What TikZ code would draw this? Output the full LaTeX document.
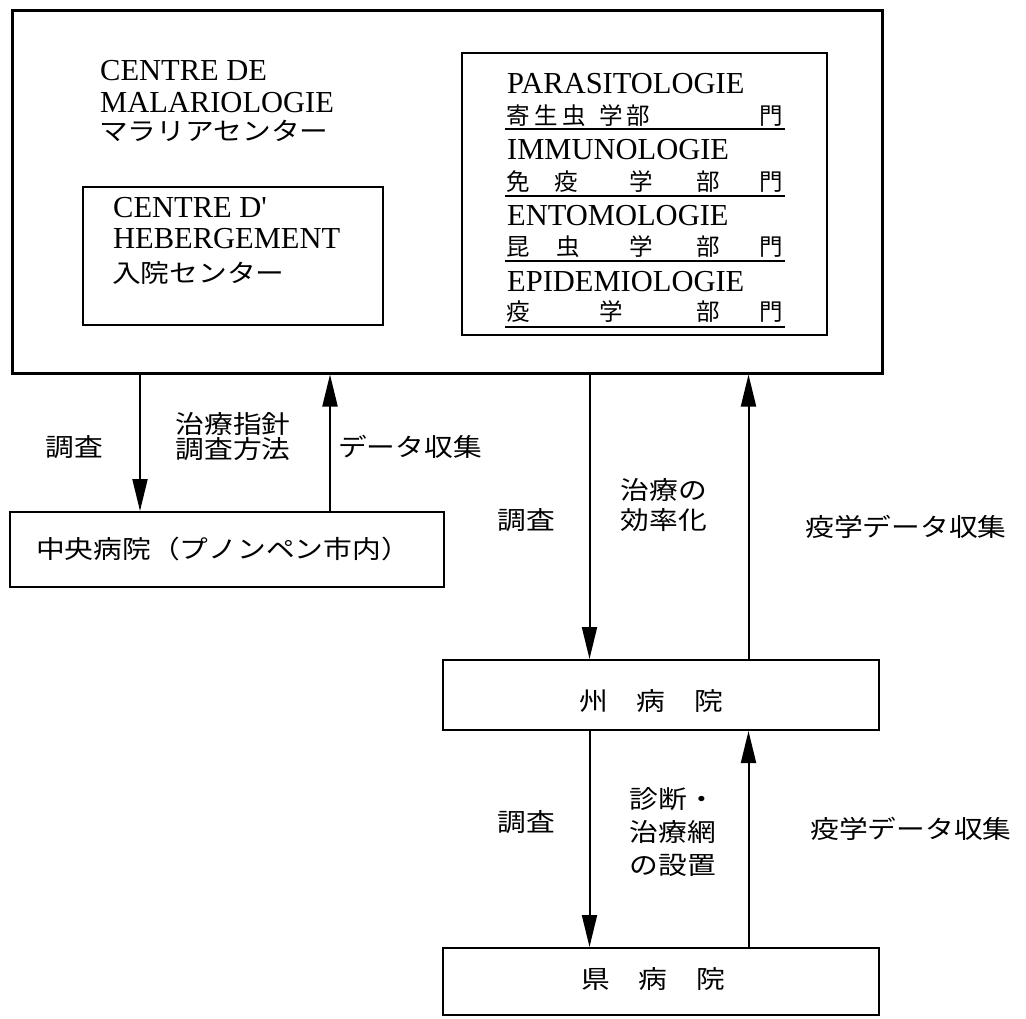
\documentclass[tikz,border=0pt]{standalone}
\usepackage{fontspec}
\usetikzlibrary{arrows.meta}
\newfontfamily\lat{Liberation Serif}[Ligatures=TeXOff]
\newfontfamily\jp{Noto Sans CJK JP}[FakeStretch=1.15]
\newfontfamily\jpn{Noto Sans CJK JP}
\newcommand\putc[2]{\rlap{\hspace*{#1pt}#2}}
\begin{document}
\begin{tikzpicture}[x=1pt,y=-1pt,
  outerbox/.style={draw,line width=3pt,inner sep=0pt},
  box/.style={draw,line width=2pt,inner sep=0pt},
  latt/.style={font=\lat\fontsize{30.5}{32}\selectfont,inner sep=0pt,anchor=base west},
  jbox/.style={font=\jp\fontsize{25}{28}\selectfont,inner sep=0pt},
  jrow/.style={font=\jpn\fontsize{23.5}{25}\selectfont,inner sep=0pt,anchor=west},
  lbl/.style={font=\jp\fontsize{25}{28}\selectfont,inner sep=0pt,align=center},
  arr/.style={line width=2pt,-{Triangle[length=32pt,width=15pt]}},
  uline/.style={line width=2pt}]
\useasboundingbox[fill=white] (0,0) rectangle (1026,1018);

% boxes
\node[outerbox,minimum width=870pt,minimum height=363pt] (mal) at (447,191.5) {};
\node[box,minimum width=300pt,minimum height=138pt] (heb) at (233,256) {};
\node[box,minimum width=365pt,minimum height=282pt] (lab) at (644.5,194) {};
\node[box,minimum width=434pt,minimum height=75pt] (cen) at (227,549.5) {};
\node[box,minimum width=436pt,minimum height=70pt] (pro) at (661,695) {};
\node[box,minimum width=436pt,minimum height=67pt] (dis) at (661,981.5) {};

% texts in the big box
\node[latt] (t1) at (100,80) {CENTRE DE};
\node[latt] (t2) at (100,112) {MALARIOLOGIE};
\node[jbox,anchor=west] (t3) at (99,131) {マラリアセンター};
\node[latt] (t4) at (113,217) {CENTRE D'};
\node[latt] (t5) at (113,248) {HEBERGEMENT};
\node[jbox,anchor=west] (t6) at (112,273) {入院センター};

% departments
\node[latt] (p1) at (507,93) {PARASITOLOGIE};
\node[jrow] (p2) at (506,116) {\putc{0}{寄}\putc{28}{生}\putc{56}{虫}\putc{93}{学}\putc{120}{部}\putc{253}{門}\hspace*{277pt}};
\node[latt] (p3) at (507,159) {IMMUNOLOGIE};
\node[jrow] (p4) at (506,182) {\putc{0}{免}\putc{48}{疫}\putc{123}{学}\putc{190}{部}\putc{253}{門}\hspace*{277pt}};
\node[latt] (p5) at (507,225) {ENTOMOLOGIE};
\node[jrow] (p6) at (506,247) {\putc{0}{昆}\putc{50}{虫}\putc{123}{学}\putc{190}{部}\putc{253}{門}\hspace*{277pt}};
\node[latt] (p7) at (507,291) {EPIDEMIOLOGIE};
\node[jrow] (p8) at (506,312) {\putc{0}{疫}\putc{93}{学}\putc{190}{部}\putc{253}{門}\hspace*{277pt}};
\draw[uline] (505,129) -- (785,129);
\draw[uline] (505,196) -- (785,196);
\draw[uline] (505,261) -- (785,261);
\draw[uline] (505,327) -- (785,327);

% hospital texts
\node[jbox] (cent) at (223,549) {中央病院（プノンペン市内）};
\node[jbox] (prot) at (651,701) {州　病　院};
\node[jbox] (dist) at (653,979) {県　病　院};

% arrow columns
\coordinate (c1) at (140,0);
\coordinate (c2) at (330,0);
\coordinate (c3) at (589.5,0);
\coordinate (c4) at (748.5,0);

\draw[arr] (mal.south -| c1) -- (cen.north -| c1);
\draw[arr] (cen.north -| c2) -- (mal.south -| c2);
\draw[arr] (mal.south -| c3) -- (pro.north -| c3);
\draw[arr] (pro.north -| c4) -- (mal.south -| c4);
\draw[arr] (pro.south -| c3) -- (dis.north -| c3);
\draw[arr] (dis.north -| c4) -- (pro.south -| c4);

% labels
\node[lbl] (l1) at (74,447) {調査};
\node[lbl,font=\jp\fontsize{25}{25}\selectfont] (l2) at (233,437) {治療指針\\調査方法};
\node[lbl] (l3) at (410,447) {データ収集};
\node[lbl] (l4) at (526,520) {調査};
\node[lbl,font=\jp\fontsize{25}{30}\selectfont] (l5) at (664,505) {治療の\\効率化};
\node[lbl] (l6) at (906,527) {疫学データ収集};
\node[lbl] (l7) at (526,822) {調査};
\node[lbl,font=\jp\fontsize{25}{33}\selectfont] (l8) at (673,832) {診断・\\治療網\\の設置};
\node[lbl] (l9) at (911,829) {疫学データ収集};
\end{tikzpicture}
\end{document}
